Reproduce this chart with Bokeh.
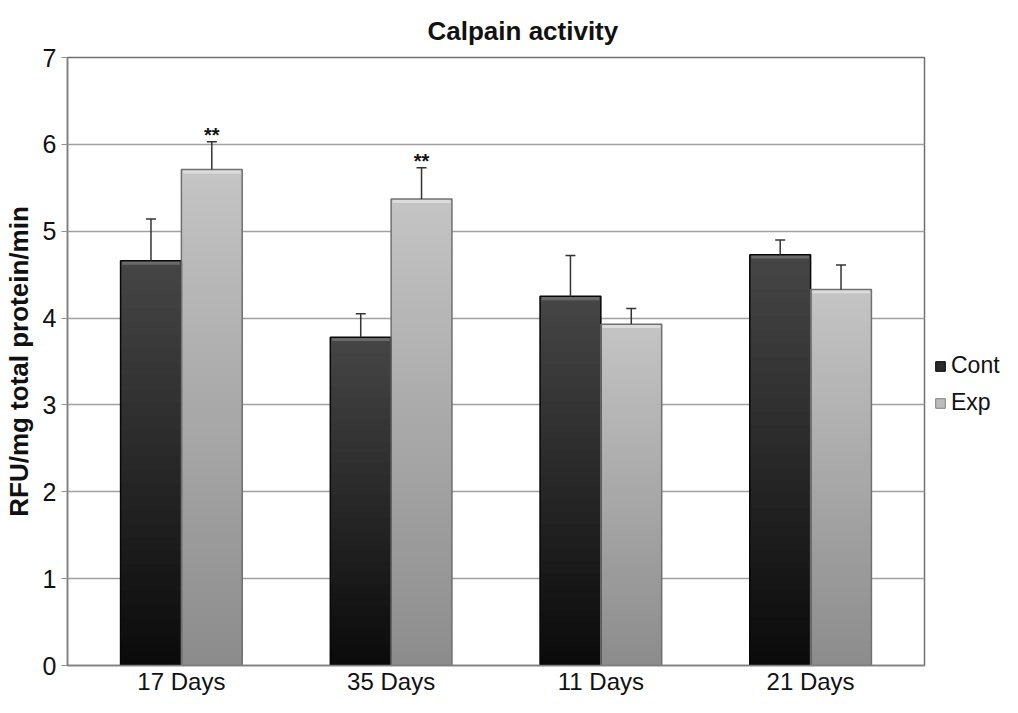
import numpy as np
from bokeh.plotting import figure
from bokeh.layouts import row
from bokeh.models import (ColumnDataSource, FactorRange, Range1d, Whisker, TeeHead,
                          Legend, LegendItem, FixedTicker)
from bokeh.transform import dodge
from bokeh.core.properties import value
from bokeh.embed import file_html
from bokeh.resources import INLINE

# ---- data ----
days = ["17 Days", "35 Days", "11 Days", "21 Days"]
series = ["Cont", "Exp"]
cont_mean = [4.66, 3.78, 4.25, 4.73]
cont_err = [0.48, 0.27, 0.47, 0.17]
exp_mean = [5.71, 5.37, 3.93, 4.33]
exp_err = [0.32, 0.36, 0.18, 0.28]
exp_sig = ["**", "**", "", ""]
cont_sig = ["", "", "", ""]
y_ticks = [0, 1, 2, 3, 4, 5, 6, 7]

FONT = "Liberation Sans"
BW = 0.29
OFF = 0.145

p = figure(x_range=FactorRange(*days, range_padding=0.0215),
           y_range=Range1d(0, 7),
           width=928, height=697,
           output_backend="svg", toolbar_location=None,
           min_border_left=62, min_border_right=4,
           min_border_top=57, min_border_bottom=26)

p.background_fill_color = "white"
p.border_fill_color = "white"
p.outline_line_color = "#707070"
p.outline_line_width = 1.5

# gradient bars: draw stacked, largest first, so each band covers the lower part
N = 60
def band_source(means, top_rgb, bot_rgb):
    xs, tops, cols = [], [], []
    for d, m in zip(days, means):
        for k in range(N):
            f = 1 - k / N
            fm = f - 0.5 / N
            c = [int(round(b + (t - b) * fm)) for t, b in zip(top_rgb, bot_rgb)]
            xs.append(d)
            tops.append(m * f)
            cols.append("#%02x%02x%02x" % tuple(c))
    return ColumnDataSource(dict(day=xs, top=tops, color=cols))

src_cb = band_source(cont_mean, (70, 70, 70), (10, 10, 10))
src_eb = band_source(exp_mean, (196, 196, 196), (140, 140, 140))

p.vbar(x=dodge("day", -OFF, range=p.x_range), top="top", bottom=0, width=BW,
       fill_color="color", line_color=None, source=src_cb)
p.vbar(x=dodge("day", OFF, range=p.x_range), top="top", bottom=0, width=BW,
       fill_color="color", line_color=None, source=src_eb)

src_c = ColumnDataSource(dict(day=days, mean=cont_mean,
                              bevel=[m - 0.045 for m in cont_mean],
                              upper=[m + e for m, e in zip(cont_mean, cont_err)],
                              sig=cont_sig))
src_e = ColumnDataSource(dict(day=days, mean=exp_mean,
                              bevel=[m - 0.045 for m in exp_mean],
                              upper=[m + e for m, e in zip(exp_mean, exp_err)],
                              sig=exp_sig))

# top bevel highlight
p.vbar(x=dodge("day", -OFF, range=p.x_range), top="mean", bottom="bevel", width=BW - 0.015,
       fill_color="#6a6a6a", line_color=None, source=src_c)
p.vbar(x=dodge("day", OFF, range=p.x_range), top="mean", bottom="bevel", width=BW - 0.015,
       fill_color="#dcdcdc", line_color=None, source=src_e)

# bar outlines
p.vbar(x=dodge("day", -OFF, range=p.x_range), top="mean", bottom=0, width=BW,
       fill_color=None, line_color="#080808", line_width=1.5, source=src_c)
p.vbar(x=dodge("day", OFF, range=p.x_range), top="mean", bottom=0, width=BW,
       fill_color=None, line_color="#707070", line_width=1.5, source=src_e)

# error bars (upper only)
for src, off in ((src_c, -OFF), (src_e, OFF)):
    w = Whisker(base=dodge("day", off, range=p.x_range), upper="upper", lower="mean",
                source=src, dimension="height", line_color="#333333", line_width=1.5,
                upper_head=TeeHead(size=10, line_color="#333333", line_width=1.5),
                lower_head=None, level="overlay")
    p.add_layout(w)

# significance marks
p.text(x=dodge("day", OFF, range=p.x_range), y="upper", text="sig", source=src_e,
       text_align="center", text_baseline="alphabetic", y_offset=-7,
       text_font=value(FONT), text_font_style="bold", text_font_size="20px",
       text_color="#111111")

# title
p.title.text = "Calpain activity"
p.title.align = "left"
p.title.offset = 360
p.title.text_font = FONT
p.title.text_font_style = "bold"
p.title.text_font_size = "26px"
p.title.text_color = "#111111"
p.title.standoff = 24

# axes
p.yaxis.ticker = FixedTicker(ticks=y_ticks)
p.yaxis.minor_tick_line_color = None
p.yaxis.major_tick_out = 6
p.yaxis.major_tick_in = 0
p.yaxis.major_tick_line_color = "#909090"
p.yaxis.major_label_standoff = 5
p.yaxis.axis_line_color = "#808080"
p.yaxis.axis_line_width = 1.5
p.yaxis.major_label_text_font = FONT
p.yaxis.major_label_text_font_size = "25px"
p.yaxis.major_label_text_color = "#111111"
p.yaxis.axis_label = "RFU/mg total protein/min"
p.yaxis.axis_label_text_font = FONT
p.yaxis.axis_label_text_font_style = "bold"
p.yaxis.axis_label_text_font_size = "26px"
p.yaxis.axis_label_text_color = "#111111"
p.yaxis.axis_label_standoff = 6

p.xaxis.major_tick_line_color = None
p.xaxis.minor_tick_line_color = None
p.xaxis.major_tick_out = 0
p.xaxis.major_label_standoff = 2
p.xaxis.axis_line_color = "#808080"
p.xaxis.axis_line_width = 1.5
p.xaxis.major_label_text_font = FONT
p.xaxis.major_label_text_font_size = "24px"
p.xaxis.major_label_text_line_height = 0.85
p.xaxis.major_label_text_color = "#111111"

p.xgrid.grid_line_color = None
p.ygrid.grid_line_color = "#a0a0a0"
p.ygrid.grid_line_width = 1.5
p.ygrid.ticker = FixedTicker(ticks=y_ticks)

# ---- legend in a narrow companion figure ----
lf = figure(width=74, height=697, x_range=Range1d(0, 1), y_range=Range1d(0, 1),
            output_backend="svg", toolbar_location=None,
            x_axis_location=None, y_axis_location=None,
            min_border_left=0, min_border_right=0, min_border_top=0, min_border_bottom=0)
lf.outline_line_color = None
lf.xgrid.visible = False
lf.ygrid.visible = False
lc = lf.vbar(x=[5], top=[5], bottom=[4], width=0.1, fill_color="#2a2a2a", line_color="#000000")
le = lf.vbar(x=[5], top=[5], bottom=[4], width=0.1, fill_color="#bcbcbc", line_color="#808080")
legend = Legend(items=[LegendItem(label=series[0], renderers=[lc]),
                       LegendItem(label=series[1], renderers=[le])],
                location=(6, 249), orientation="vertical",
                label_text_font=FONT, label_text_font_size="23px",
                label_text_color="#111111",
                glyph_width=12, glyph_height=12, label_standoff=5,
                spacing=10, padding=0, margin=0,
                border_line_color=None, background_fill_alpha=0)
lf.add_layout(legend, "center")

layout = row(p, lf)
open("out.html", "w").write(file_html(layout, INLINE))
